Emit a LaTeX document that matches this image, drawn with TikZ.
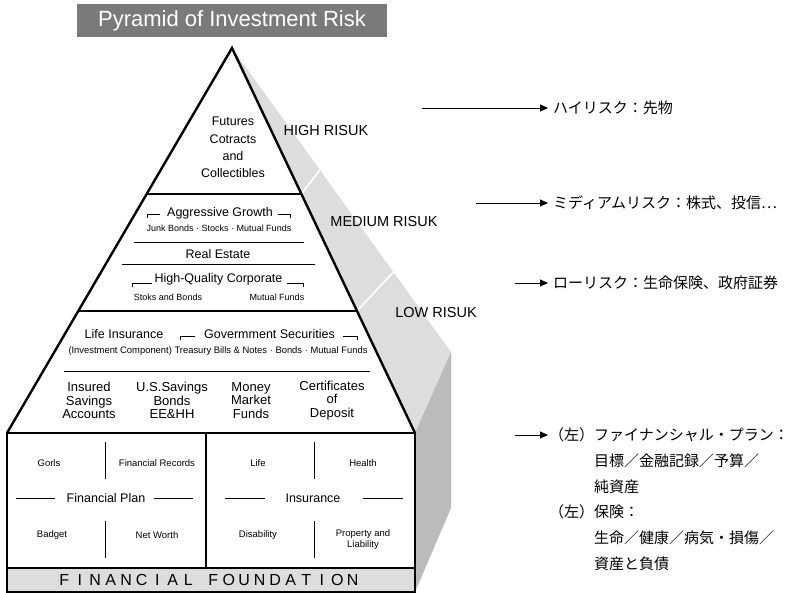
\documentclass[tikz,border=0pt]{standalone}
\usepackage{fontspec}
\setmainfont{Liberation Sans}
\newfontfamily\jpfont{Noto Sans CJK JP}
\usetikzlibrary{arrows.meta,calc}
\definecolor{titlegray}{HTML}{7A7A7A}
\definecolor{lightshade}{HTML}{DDDDDD}
\definecolor{darkshade}{HTML}{BBBBBB}
\newcommand\fcell[1]{\makebox[15.5pt]{#1}}
\begin{document}
\begin{tikzpicture}[x=1pt,y=-1pt,
  heavyline/.style={line width=2.4pt},
  fineline/.style={line width=0.9pt},
  lbl/.style={inner sep=0pt, align=center, font=\fontsize{12.5}{14}\selectfont},
  colbl/.style={inner sep=0pt, align=center, font=\fontsize{13}{13.6}\selectfont},
  smlbl/.style={inner sep=0pt, align=center, font=\fontsize{9}{10}\selectfont},
  baselbl/.style={inner sep=0pt, align=center, font=\fontsize{9.5}{10.5}\selectfont},
  risklbl/.style={inner sep=0pt, font=\fontsize{14.5}{16}\selectfont},
  jplbl/.style={inner sep=0pt, anchor=west, font=\jpfont\fontsize{15}{18}\selectfont},
  arrowline/.style={-{Triangle[length=8pt,width=7pt]}, line width=0.9pt},
]
\useasboundingbox (0,0) rectangle (792,593);

% key points
\coordinate (apex) at (232,48);
\coordinate (bl) at (7,433);
\coordinate (br) at (415,433);
\coordinate (t1l) at ($(apex)!0.3792!(bl)$);
\coordinate (t1r) at ($(apex)!0.3792!(br)$);
\coordinate (t2l) at ($(apex)!0.6831!(bl)$);
\coordinate (t2r) at ($(apex)!0.6831!(br)$);
\coordinate (sback) at (451,352);
\coordinate (sbot) at (451,508);
\coordinate (fbr) at (415,592);
\coordinate (fbl) at (7,592);

% title
\node[fill=titlegray, text=white, minimum width=310pt, minimum height=33pt, inner sep=0pt,
      font=\fontsize{22}{24}\selectfont] (title) at (232,20.5) {Pyramid of Investment Risk};

% shaded side faces
\fill[lightshade] (apex) -- (sback) -- (br) -- cycle;
\fill[darkshade] (br) -- (sback) -- (sbot) -- (fbr) -- cycle;
\draw[white, line width=1.6pt] (t1r) -- ($(apex)!0.4013!(sback)$);
\draw[white, line width=1.6pt] (t2r) -- ($(apex)!0.7368!(sback)$);

% pyramid
\fill[white] (bl) -- (apex) -- (br) -- cycle;
\draw[heavyline, line join=miter] (bl) -- (apex) -- (br);
\draw[heavyline] (t1l) -- (t1r);
\draw[heavyline] (t2l) -- (t2r);

% base box
\fill[lightshade] (7,568) rectangle (fbr);
\draw[heavyline] (bl) rectangle (fbr);
\draw[heavyline] (7,568) -- (415,568);
\draw[heavyline] (206,433) -- (206,568);

% top tier
\node[lbl, font=\fontsize{12.5}{17.2}\selectfont] (futures) at (233,147.5) {Futures\\Cotracts\\and\\Collectibles};

% medium tier
\node[lbl] (aggr) at (220,213) {Aggressive Growth};
\draw[fineline] (160,214) -- (147,214) -- (147,218);
\draw[fineline] (278,214) -- (290,214) -- (290,218);
\node[smlbl] (junk) at (219,228) {Junk Bonds · Stocks · Mutual Funds};
\draw[fineline] (134,242) -- (304,242);
\node[lbl] (realest) at (218,254) {Real Estate};
\draw[fineline] (122,264) -- (315,264);
\node[lbl] (hq) at (218.5,279) {High-Quality Corporate};
\draw[fineline] (152,283) -- (132,283) -- (132,287);
\draw[fineline] (287,283) -- (303,283) -- (303,287);
\node[smlbl] (stoks) at (168,297) {Stoks and Bonds};
\node[smlbl] (mfunds) at (277,297) {Mutual Funds};

% low tier
\node[lbl] (lifeins) at (124,334) {Life Insurance};
\node[lbl] (govsec) at (269.5,334) {Govermment Securities};
\draw[fineline] (195,336) -- (180,336) -- (180,340);
\draw[fineline] (343,336) -- (357,336) -- (357,340);
\node[smlbl, font=\fontsize{9.4}{10}\selectfont] (invest) at (218,351) {(Investment Component) Treasury Bills \& Notes · Bonds · Mutual Funds};
\draw[fineline] (64,371) -- (370,371);
\node[colbl] (insured) at (89,400.5) {Insured\\Savings\\Accounts};
\node[colbl] (ussav) at (172,400.5) {U.S.Savings\\Bonds\\EE\&HH};
\node[colbl] (money) at (251,400.5) {Money\\Market\\Funds};
\node[colbl] (cert) at (332,400.5) {Certificates\\of\\Deposit};

% base: financial plan
\draw[fineline] (105,442) -- (105,479);
\draw[fineline] (105,521) -- (105,558);
\node[baselbl] (gorls) at (49,463) {Gorls};
\node[baselbl] (finrec) at (157,463) {Financial Records};
\node[lbl] (finplan) at (106,498) {Financial Plan};
\draw[fineline] (16,498) -- (55,498);
\draw[fineline] (154,498) -- (193,498);
\node[baselbl] (badget) at (52,535) {Badget};
\node[baselbl] (networth) at (157,535) {Net Worth};

% base: insurance
\draw[fineline] (314,442) -- (314,479);
\draw[fineline] (314,521) -- (314,558);
\node[baselbl] (life) at (258,463) {Life};
\node[baselbl] (health) at (363,463) {Health};
\node[lbl] (insur) at (313,498) {Insurance};
\draw[fineline] (225,498) -- (265,498);
\draw[fineline] (363,498) -- (403,498);
\node[baselbl] (disab) at (258,535) {Disability};
\node[baselbl] (proplia) at (363,539.5) {Property and\\Liability};

% foundation
\node[inner sep=0pt, font=\fontsize{16}{18}\selectfont] (found) at (208.5,580)
  {\fcell{F}\fcell{I}\fcell{N}\fcell{A}\fcell{N}\fcell{C}\fcell{I}\fcell{A}\fcell{L}\hspace{9.5pt}\fcell{F}\fcell{O}\fcell{U}\fcell{N}\fcell{D}\fcell{A}\fcell{T}\fcell{I}\fcell{O}\fcell{N}};

% risk labels
\node[risklbl] (high) at (326,131) {HIGH RISUK};
\node[risklbl] (medium) at (384,222) {MEDIUM RISUK};
\node[risklbl] (low) at (436,313) {LOW RISUK};

% Japanese notes
\node[jplbl] (jhigh) at (553,108) {ハイリスク：先物};
\node[jplbl] (jmed) at (553,203) {ミディアムリスク：株式、投信⋯};
\node[jplbl] (jlow) at (553,283) {ローリスク：生命保険、政府証券};
\node[jplbl] (jbase1) at (549,435) {（左）ファイナンシャル・プラン：};
\node[jplbl] (jbase2) at (594,461) {目標／金融記録／予算／};
\node[jplbl] (jbase3) at (594,487) {純資産};
\node[jplbl] (jbase4) at (549,512) {（左）保険：};
\node[jplbl] (jbase5) at (594,538) {生命／健康／病気・損傷／};
\node[jplbl] (jbase6) at (594,564) {資産と負債};

% arrows
\coordinate (a1) at (422,108);
\coordinate (a2) at (476,203);
\coordinate (a3) at (515,283);
\coordinate (a4) at (515,435);
\draw[arrowline, shorten >=5pt] (a1) -- (jhigh.west);
\draw[arrowline, shorten >=5pt] (a2) -- (jmed.west);
\draw[arrowline, shorten >=5pt] (a3) -- (jlow.west);
\draw[arrowline, shorten >=1pt] (a4) -- (jbase1.west);
\end{tikzpicture}
\end{document}
